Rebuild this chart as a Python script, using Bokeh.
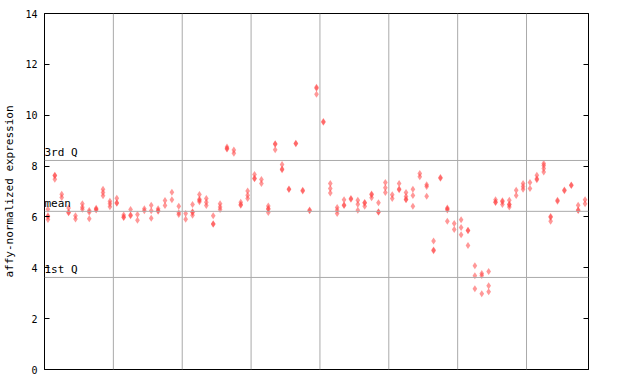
from bokeh.plotting import figure
from bokeh.models import Span, LinearAxis, Range1d, FixedTicker, ColumnDataSource, Label
from bokeh.embed import file_html
from bokeh.resources import INLINE

# replicate values per sample, in groups of ten samples
group_1 = [[6.30, 6.04, 6.02, 5.90], [7.64, 7.62, 7.48], [6.89, 6.76], [6.35, 6.18, 6.16], [6.05, 5.92],
           [6.52, 6.38, 6.30], [6.25, 6.18, 5.93], [6.34, 6.30, 6.27], [7.09, 6.96, 6.83], [6.62, 6.52, 6.40]]
group_2 = [[6.73, 6.56, 6.54], [6.08, 6.00, 5.98], [6.29, 6.08, 6.05], [6.10, 5.87], [6.32, 6.24],
           [6.46, 6.24, 5.95], [6.32, 6.25, 6.22], [6.65, 6.45], [6.97, 6.68], [6.42, 6.16, 6.10]]
group_3 = [[6.13, 5.91], [6.49, 6.20, 6.17, 6.07], [6.88, 6.70, 6.66, 6.60], [6.72, 6.58, 6.45], [6.05, 5.73, 5.71],
           [6.52, 6.39, 6.29], [8.75, 8.69, 8.67], [8.63, 8.50], [6.58, 6.49, 6.46], [7.02, 6.85, 6.72]]
group_4 = [[7.67, 7.52, 7.50], [7.47, 7.31], [6.43, 6.33, 6.30, 6.17], [8.88, 8.86, 8.64], [8.06, 7.88, 7.86],
           [7.10, 7.08], [8.90, 8.88], [7.05, 7.02], [6.27, 6.24], [11.10, 11.06, 10.82]]
group_5 = [[9.75, 9.72], [7.31, 7.12, 6.94], [6.37, 6.26, 6.13], [6.68, 6.47, 6.45], [6.72, 6.70],
           [6.66, 6.50, 6.26], [6.57, 6.55, 6.42], [6.90, 6.87, 6.75], [6.56, 6.20, 6.18], [7.35, 7.15, 6.96]]
group_6 = [[6.87, 6.72], [7.31, 7.10, 7.07], [6.96, 6.80, 6.70, 6.68], [7.09, 6.84, 6.42], [7.71, 7.58],
           [7.27, 7.20, 6.81], [5.05, 4.70, 4.67], [7.55, 7.52], [6.35, 6.31, 6.27, 5.83], [5.74, 5.51]]
group_7 = [[5.89, 5.58, 5.30], [5.48, 5.46, 4.88], [4.08, 3.69, 3.18], [3.78, 3.70, 2.98], [3.85, 3.29, 3.06],
           [6.68, 6.59, 6.57], [6.64, 6.60, 6.49], [6.66, 6.50, 6.48, 6.39], [7.05, 6.84], [7.31, 7.20, 7.09]]
group_8 = [[7.35, 7.12], [7.64, 7.50, 7.46], [8.10, 8.02, 7.90, 7.77], [6.02, 5.99, 5.83], [6.66, 6.62],
           [7.06, 7.03], [7.26, 7.24], [6.46, 6.27, 6.25], [6.68, 6.52]]

groups = [group_1, group_2, group_3, group_4, group_5, group_6, group_7, group_8]

stat_names = ["3rd Q", "mean", "1st Q"]
stat_values = [8.22, 6.22, 3.62]

y_ticks = [0, 2, 4, 6, 8, 10, 12, 14]

samples = [s for g in groups for s in g]
xs, ys = [], []
for i, reps in enumerate(samples):
    for v in reps:
        xs.append(i)
        ys.append(v)
n = len(samples)

p = figure(frame_width=544, frame_height=356,
           x_range=Range1d(-0.5, n - 0.5), y_range=Range1d(0, 14),
           output_backend="svg", toolbar_location=None,
           min_border_left=36, min_border_top=13, min_border_right=30, min_border_bottom=8)
p.background_fill_color = "white"
p.border_fill_color = "white"
p.outline_line_color = "black"
p.outline_line_width = 1
p.xgrid.visible = False
p.ygrid.visible = False
p.xaxis.visible = False

ya = p.yaxis[0]
ya.ticker = FixedTicker(ticks=y_ticks)
ya.major_tick_in = 5
ya.major_tick_out = 0
ya.minor_tick_line_color = None
ya.axis_line_color = "black"
ya.major_label_text_font = "DejaVu Sans Mono"
ya.major_label_text_font_size = "10px"
ya.major_label_text_color = "black"
ya.major_label_standoff = 7
ya.axis_label = "affy-normalized expression"
ya.axis_label_text_font = "DejaVu Sans Mono"
ya.axis_label_text_font_size = "11px"
ya.axis_label_text_font_style = "normal"
ya.axis_label_text_color = "black"
ya.axis_label_standoff = 6

ra = LinearAxis(ticker=FixedTicker(ticks=y_ticks))
ra.major_tick_in = 5
ra.major_tick_out = 0
ra.minor_tick_line_color = None
ra.major_label_overrides = {t: "" for t in y_ticks}
ra.major_label_standoff = 0
p.add_layout(ra, "right")

# group separators
for k in range(1, len(groups)):
    p.add_layout(Span(location=sum(len(g) for g in groups[:k]) - 0.5, dimension="height",
                      line_color="#aaaaaa", line_width=1))

for name, val in zip(stat_names, stat_values):
    p.add_layout(Span(location=val, dimension="width", line_color="#aaaaaa", line_width=1))
    p.add_layout(Label(x=-0.5, y=val, text=name, x_offset=0, y_offset=1,
                       text_baseline="bottom", text_align="left",
                       text_font="DejaVu Sans Mono", text_font_size="11px", text_color="black"))

src = ColumnDataSource(dict(x=xs, y=ys))
p.scatter("x", "y", source=src, marker="diamond", size=7,
          fill_color="#ff4444", fill_alpha=0.55, line_color=None)

open("out.html", "w").write(file_html(p, INLINE))
